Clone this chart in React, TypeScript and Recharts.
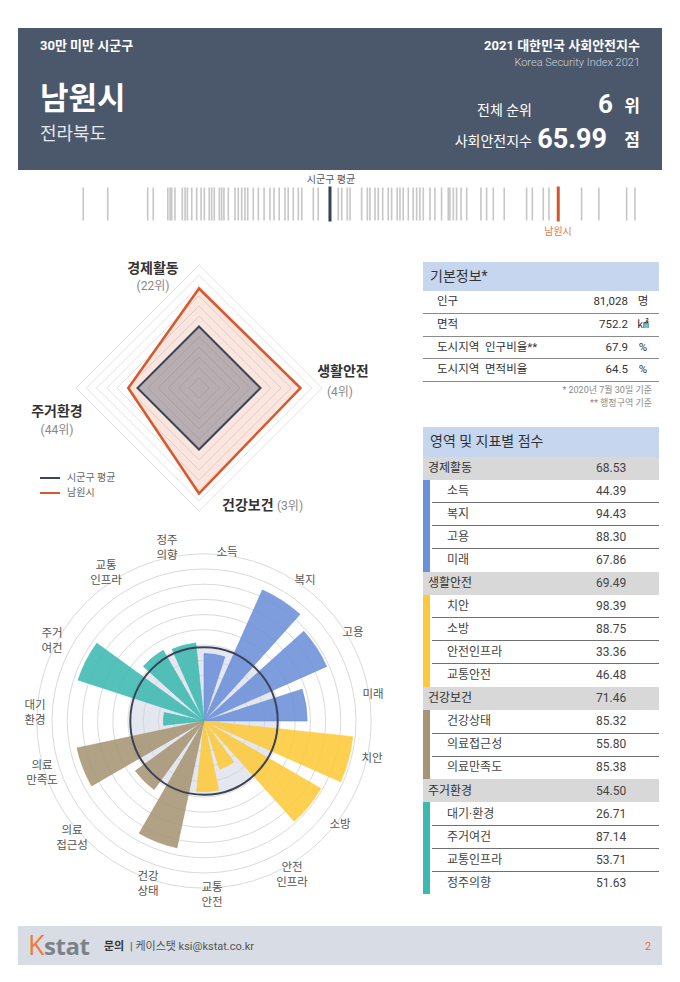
import React from 'react';
import {
  RadarChart, Radar, PolarGrid, PolarAngleAxis, PolarRadiusAxis,
  RadialBarChart, RadialBar, Cell, ScatterChart, Scatter, XAxis, YAxis,
} from 'recharts';

const FONT = "Roboto, 'Noto Sans CJK KR', sans-serif";

// ---- data ----
const domainNames = ['경제활동', '생활안전', '건강보건', '주거환경'];
const domainScores = [68.53, 69.49, 71.46, 54.5];
const domainAvg = [50, 50, 50, 50];
const domainRanks = ['(22위)', '(4위)', '(3위)', '(44위)'];

const indicatorNames = ['소득', '복지', '고용', '미래', '치안', '소방', '안전인프라', '교통안전', '건강상태', '의료접근성', '의료만족도', '대기·환경', '주거여건', '교통인프라', '정주의향'];
const indicatorScores = [44.39, 94.43, 88.3, 67.86, 98.39, 88.75, 33.36, 46.48, 85.32, 55.8, 85.38, 26.71, 87.14, 53.71, 51.63];
const indicatorGroup = [0, 0, 0, 0, 1, 1, 1, 1, 2, 2, 2, 3, 3, 3, 3];
const indicatorAvg = 48.5;
const polarLabels = ['소득', '복지', '고용', '미래', '치안', '소방', '안전\n인프라', '교통\n안전', '건강\n상태', '의료\n접근성', '의료\n만족도', '대기\n환경', '주거\n여건', '교통\n인프라', '정주\n의향'];

const basicLabels = ['인구', '면적', '도시지역  인구비율**', '도시지역  면적비율'];
const basicValues = ['81,028', '752.2', '67.9', '64.5'];
const basicUnits = ['명', '㎢', '%', '%'];

const sigunguScores = [
  36.88, 38.38, 40.83, 41.17, 42.06, 42.2, 42.3, 42.5, 42.95, 43.12, 43.26, 43.53, 43.83, 44.1, 44.3,
  44.6, 44.75, 44.91, 45.22, 45.36, 45.5, 45.77, 46.18, 46.38, 46.59, 46.79, 46.96, 47.3, 47.61, 47.96,
  48.32, 48.57, 48.89, 49.24, 49.44, 49.75, 50.06, 50.27, 50.98, 51.28, 52.51, 52.72, 53.06, 53.23,
  53.94, 54.29, 54.45, 54.76, 54.96, 55.23, 55.57, 55.78, 56.12, 56.29, 56.49, 56.8, 57.1, 57.31, 57.51,
  57.72, 58.13, 58.43, 58.84, 59.25, 59.35, 59.56, 59.76, 60.03, 60.38, 61.25, 61.6, 62.01, 62.68,
  64.05, 64.4, 65.07, 65.42, 67.42, 68.48, 70.18, 70.69,
];
const sigunguAvg = 52.0;
const namwonScore = 65.99;

// ---- styles ----
const groupColors = ['#6b8fd8', '#fdc93a', '#a69574', '#3cb9b1'];
const polarLabelPos: [number, number][] = [
  [227, 552], [305, 580], [353, 632], [373, 694], [372, 758], [340, 824], [292, 875], [212, 895],
  [148, 884], [72, 838], [42, 773], [35, 713], [52, 641], [106, 573], [167, 548],
];

type TP = { x: number; y: number; s: number; c?: string; w?: number; a?: 'l' | 'r' | 'c'; f?: string; children: React.ReactNode; lh?: number };
function T({ x, y, s, c = '#333', w = 400, a = 'l', f = FONT, children, lh }: TP) {
  const st: React.CSSProperties = {
    position: 'absolute', top: y - s * 0.6, lineHeight: `${lh ?? s * 1.2}px`, fontSize: s, color: c,
    fontWeight: w, fontFamily: f, whiteSpace: 'pre', margin: 0,
  };
  if (a === 'l') st.left = x;
  else if (a === 'r') st.right = 680 - x;
  else { st.left = x; st.transform = 'translateX(-50%)'; st.textAlign = 'center'; }
  return <div style={st}>{children}</div>;
}

const radarData = domainNames.map((n, i) => ({ name: n, score: domainScores[i], avg: domainAvg[i] }));
const barData = indicatorNames.map((n, i) => ({ name: n, value: indicatorScores[i], g: indicatorGroup[i] }));
const avgData = [{ name: 'avg', value: indicatorAvg }];
const stripData = sigunguScores.map((s) => ({ x: s, y: 0.5 }));

const polarCommon = {
  width: 400, height: 400, cx: 200, cy: 200, innerRadius: 0, outerRadius: 167.2,
  margin: { top: 0, right: 0, bottom: 0, left: 0 },
};

export default function App() {
  const scoreRows: React.ReactNode[] = [];
  let y = 456.5;
  const RH = 23.05;
  domainNames.forEach((dn, gi) => {
    scoreRows.push(
      <div key={'d' + gi} style={{ position: 'absolute', left: 423, top: y, width: 236, height: RH, background: '#d8d8d8' }} />,
    );
    scoreRows.push(<T key={'dl' + gi} x={428} y={y + RH / 2} s={12} c="#333">{dn}</T>);
    scoreRows.push(<T key={'dv' + gi} x={596} y={y + RH / 2} s={12} c="#444">{domainScores[gi].toFixed(2)}</T>);
    y += RH;
    const idx = indicatorNames.map((_, i) => i).filter((i) => indicatorGroup[i] === gi);
    scoreRows.push(
      <div key={'cb' + gi} style={{ position: 'absolute', left: 423, top: y, width: 7, height: RH * idx.length, background: groupColors[gi] }} />,
    );
    idx.forEach((i, k) => {
      scoreRows.push(<T key={'il' + i} x={447} y={y + RH / 2} s={12} c="#444">{indicatorNames[i]}</T>);
      scoreRows.push(<T key={'iv' + i} x={596} y={y + RH / 2} s={12} c="#444">{indicatorScores[i].toFixed(2)}</T>);
      if (k < idx.length - 1) {
        scoreRows.push(<div key={'ln' + i} style={{ position: 'absolute', left: 432, top: y + RH - 0.5, width: 227, height: 1, background: '#707070' }} />);
      }
      y += RH;
    });
  });

  return (
    <div style={{ position: 'absolute', left: 0, top: 0, width: 680, height: 982, background: '#fff', fontFamily: FONT, overflow: 'hidden' }}>
      {/* header */}
      <div style={{ position: 'absolute', left: 18, top: 28, width: 644, height: 142, background: '#4b586b' }} />
      <T x={40} y={46} s={13} c="#fff" w={700}>30만 미만 시군구</T>
      <T x={640} y={46} s={13} c="#fff" w={700} a="r">2021 대한민국 사회안전지수</T>
      <T x={640} y={63} s={11} c="#cdd3dc" w={300} a="r">Korea Security Index 2021</T>
      <T x={40} y={99} s={31} c="#fff" w={700}>남원시</T>
      <T x={40} y={134} s={18} c="#e4e7ec">전라북도</T>
      <T x={532} y={110} s={14} c="#fff" a="r">전체 순위</T>
      <T x={613} y={105} s={26} c="#fff" w={700} a="r">6</T>
      <T x={640} y={106} s={17} c="#fff" w={700} a="r">위</T>
      <T x={532} y={141} s={14} c="#fff" a="r">사회안전지수</T>
      <T x={607} y={139} s={27} c="#fff" w={700} a="r">65.99</T>
      <T x={640} y={140} s={17} c="#fff" w={700} a="r">점</T>

      {/* strip */}
      <div style={{ position: 'absolute', left: 80, top: 184 }}>
        <ScatterChart width={560} height={40} margin={{ top: 0, right: 0, bottom: 0, left: 0 }}>
          <XAxis dataKey="x" type="number" domain={[36.68, 71]} hide />
          <YAxis dataKey="y" type="number" domain={[0, 1]} hide />
          <Scatter data={stripData} isAnimationActive={false}
            shape={(p: any) => <rect x={p.cx - 0.8} y={p.cy - 16.5} width={1.6} height={33} fill="#8f8f8f" fillOpacity={0.5} />} />
          <Scatter data={[{ x: sigunguAvg, y: 0.5 }]} isAnimationActive={false}
            shape={(p: any) => <rect x={p.cx - 1.5} y={p.cy - 17.5} width={3} height={35} fill="#34425a" />} />
          <Scatter data={[{ x: namwonScore, y: 0.5 }]} isAnimationActive={false}
            shape={(p: any) => <rect x={p.cx - 1.5} y={p.cy - 17.5} width={3} height={35} fill="#d4562a" />} />
        </ScatterChart>
      </div>
      <T x={331} y={180} s={10} c="#555" a="c">시군구 평균</T>
      <T x={558} y={232} s={10} c="#e0774f" a="c">남원시</T>

      {/* radar */}
      <div style={{ position: 'absolute', left: 0, top: 240 }}>
        <RadarChart width={400} height={290} cx={199} cy={148} outerRadius={123} data={radarData}
          margin={{ top: 0, right: 0, bottom: 0, left: 0 }}>
          <PolarGrid gridType="polygon" radialLines={false} stroke="#e2e2e2" />
          <PolarAngleAxis dataKey="name" tick={false} axisLine={false} />
          <PolarRadiusAxis type="number" domain={[20, 80]} tickCount={13} tick={false} axisLine={false} />
          <Radar dataKey="score" stroke="#d9572b" strokeWidth={2.5} fill="#e0592a" fillOpacity={0.15} dot={false} isAnimationActive={false} />
          <Radar dataKey="avg" stroke="#3d4556" strokeWidth={2} fill="#5e6070" fillOpacity={0.42} dot={false} isAnimationActive={false} />
        </RadarChart>
      </div>
      <T x={153} y={268} s={14} c="#333" w={700} a="c">{domainNames[0]}</T>
      <T x={153} y={286} s={12} c="#888" a="c">{domainRanks[0]}</T>
      <T x={343} y={371} s={14} c="#333" w={700} a="c">{domainNames[1]}</T>
      <T x={340} y={392} s={12} c="#888" a="c">{domainRanks[1]}</T>
      <T x={222} y={505} s={14} c="#333" w={700}>{domainNames[2]}</T>
      <T x={277} y={506} s={12} c="#888">{domainRanks[2]}</T>
      <T x={57} y={411} s={14} c="#333" w={700} a="c">{domainNames[3]}</T>
      <T x={57} y={430} s={12} c="#888" a="c">{domainRanks[3]}</T>
      {/* legend */}
      <div style={{ position: 'absolute', left: 40, top: 477, width: 20, height: 2, background: '#3d4556' }} />
      <T x={67} y={478} s={10} c="#666">시군구 평균</T>
      <div style={{ position: 'absolute', left: 40, top: 492, width: 20, height: 2, background: '#d9572b' }} />
      <T x={67} y={493} s={10} c="#666">남원시</T>

      {/* polar bars */}
      <div style={{ position: 'absolute', left: 4, top: 521 }}>
        <RadialBarChart {...polarCommon} data={avgData} startAngle={90} endAngle={-270} layout="centric" barCategoryGap={0}>
          <PolarGrid gridType="circle" radialLines={false} stroke="#dadada" />
          <PolarAngleAxis type="category" dataKey="name" tick={false} axisLine={false} />
          <PolarRadiusAxis type="number" domain={[0, 110]} tickCount={12} tick={false} axisLine={false} />
          <RadialBar dataKey="value" isAnimationActive={false}
            shape={(p: any) => <circle cx={p.cx} cy={p.cy} r={p.outerRadius} fill="#cdd3e2" fillOpacity={0.55} />} />
        </RadialBarChart>
      </div>
      <div style={{ position: 'absolute', left: 4, top: 521 }}>
        <RadialBarChart {...polarCommon} data={barData} startAngle={69} endAngle={-291} layout="centric" barCategoryGap="12.5%">
          <PolarAngleAxis type="category" dataKey="name" tick={false} axisLine={false} />
          <PolarRadiusAxis type="number" domain={[0, 110]} tickCount={12} tick={false} axisLine={false} />
          <RadialBar dataKey="value" isAnimationActive={false}>
            {barData.map((d, i) => (
              <Cell key={i} fill={groupColors[d.g]} fillOpacity={0.88} stroke={groupColors[d.g]} strokeWidth={0.6} />
            ))}
          </RadialBar>
        </RadialBarChart>
      </div>
      <div style={{ position: 'absolute', left: 4, top: 521 }}>
        <RadialBarChart {...polarCommon} data={avgData} startAngle={90} endAngle={-270} layout="centric" barCategoryGap={0}>
          <PolarAngleAxis type="category" dataKey="name" tick={false} axisLine={false} />
          <PolarRadiusAxis type="number" domain={[0, 110]} tickCount={12} tick={false} axisLine={false} />
          <RadialBar dataKey="value" isAnimationActive={false}
            shape={(p: any) => <circle cx={p.cx} cy={p.cy} r={p.outerRadius} fill="none" stroke="#3a4356" strokeWidth={2} />} />
        </RadialBarChart>
      </div>
      {polarLabels.map((l, i) => (
        <div key={'pl' + i} style={{
          position: 'absolute', left: polarLabelPos[i][0], top: polarLabelPos[i][1],
          transform: 'translate(-50%, -50%)', textAlign: 'center', fontSize: 11.5, lineHeight: '15px',
          color: '#555', whiteSpace: 'pre', fontFamily: FONT,
        }}>{l}</div>
      ))}

      {/* basic info */}
      <div style={{ position: 'absolute', left: 423, top: 262, width: 236, height: 29, background: '#c6d6ef' }} />
      <T x={430} y={276} s={14} c="#333">기본정보*</T>
      {basicLabels.map((l, i) => {
        const ry = 291 + i * 22.6;
        return (
          <React.Fragment key={'b' + i}>
            <T x={437} y={ry + 11.3} s={11.5} c="#333">{l}</T>
            <T x={628} y={ry + 11.3} s={11.5} c="#333" a="r">{basicValues[i]}</T>
            <T x={643} y={ry + 11.3} s={11.5} c="#333" a="c">{basicUnits[i]}</T>
            <div style={{ position: 'absolute', left: 423, top: ry + 22.1, width: 236, height: 1, background: '#8a8a8a' }} />
          </React.Fragment>
        );
      })}
      <T x={652} y={390} s={9} c="#888" a="r">* 2020년 7월 30일 기준</T>
      <T x={652} y={403} s={9} c="#888" a="r">** 행정구역 기준</T>

      {/* score table */}
      <div style={{ position: 'absolute', left: 423, top: 427, width: 236, height: 29.5, background: '#c6d6ef' }} />
      <T x={430} y={441.5} s={14} c="#333">영역 및 지표별 점수</T>
      {scoreRows}

      {/* footer */}
      <div style={{ position: 'absolute', left: 18, top: 926, width: 644, height: 39, background: '#d8dde5' }} />
      <div style={{ position: 'absolute', left: 28, top: 931, fontFamily: "'Open Sans', sans-serif", fontSize: 24, lineHeight: '28px', fontWeight: 700, letterSpacing: -0.5 }}>
        <span style={{ color: '#ef7a3a', fontWeight: 400, fontSize: 27 }}>K</span>
        <span style={{ color: '#7d828a' }}>stat</span>
      </div>
      <T x={104} y={947} s={11} c="#333" w={700}>문의</T>
      <T x={130} y={947} s={11} c="#555">| 케이스탯 ksi@kstat.co.kr</T>
      <T x={645} y={947} s={11} c="#e8703a">2</T>
    </div>
  );
}
